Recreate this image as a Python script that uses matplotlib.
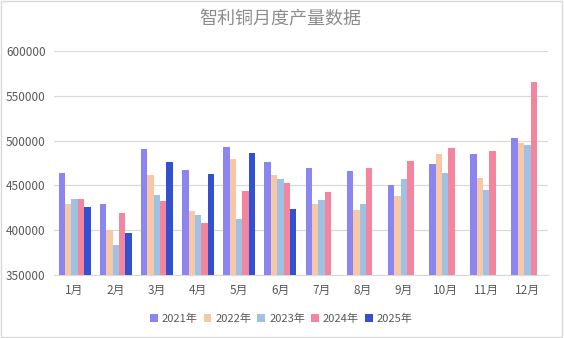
import numpy as np
import matplotlib
matplotlib.use("Agg")
import matplotlib.pyplot as plt
from matplotlib.patches import Rectangle

plt.rcParams['font.family'] = ['Noto Sans CJK SC', 'DejaVu Sans']

months = ['1月', '2月', '3月', '4月', '5月', '6月', '7月', '8月', '9月', '10月', '11月', '12月']
years = ['2021年', '2022年', '2023年', '2024年', '2025年']

y2021 = [464000, 429000, 491000, 467000, 493000, 476000, 469500, 466000, 450500, 474000, 485000, 503000]
y2022 = [429000, 400000, 461500, 421500, 479500, 461500, 429000, 422500, 438000, 485000, 458000, 497500]
y2023 = [434500, 383500, 439000, 417000, 412500, 457000, 433500, 429000, 457000, 464000, 445000, 495000]
y2024 = [434500, 419500, 432500, 408000, 443500, 452500, 442500, 469500, 477000, 491500, 488500, 565500]
y2025 = [426000, 397000, 476000, 463000, 486000, 423500, np.nan, np.nan, np.nan, np.nan, np.nan, np.nan]

series = [y2021, y2022, y2023, y2024, y2025]
colors = ['#8b85f0', '#f6c8a8', '#9fc2e4', '#f4859f', '#3350d0']

fig = plt.figure(figsize=(5.64, 3.38), dpi=100)
ax = fig.add_axes([0.0957, 0.186, 0.876, 0.663])

x = np.arange(len(months))
w = 0.155
for i, (vals, c) in enumerate(zip(series, colors)):
    ax.bar(x + (i - 2) * w, vals, width=w, color=c, label=years[i], zorder=3)

ax.set_xlim(-0.5, len(months) - 0.5)
ax.set_ylim(350000, 600000)
ax.set_yticks(np.arange(350000, 600001, 50000))
ax.set_xticks(x)
ax.set_xticklabels(months)
ax.grid(axis='y', color='#d9d9d9', linewidth=0.9, zorder=0)
for s in ['top', 'right', 'left']:
    ax.spines[s].set_visible(False)
ax.spines['bottom'].set_color('#d9d9d9')
ax.tick_params(axis='both', length=0, labelsize=8.5, labelcolor='#595959')
ax.tick_params(axis='x', pad=6)
ax.tick_params(axis='y', pad=6)

fig.suptitle('智利铜月度产量数据', x=0.497, y=0.968, fontsize=13, color='#8c8c8c')

ax.legend(loc='upper center', bbox_to_anchor=(0.46, -0.125), ncol=5, frameon=False,
          fontsize=8, labelcolor='#595959', handlelength=0.7, handleheight=0.7,
          handletextpad=0.35, columnspacing=0.55)

fig.patches.append(Rectangle((0.002, 0.004), 0.994, 0.994, transform=fig.transFigure,
                             fill=False, edgecolor='#d9d9d9', linewidth=1))

fig.savefig('out.png', dpi=100)
